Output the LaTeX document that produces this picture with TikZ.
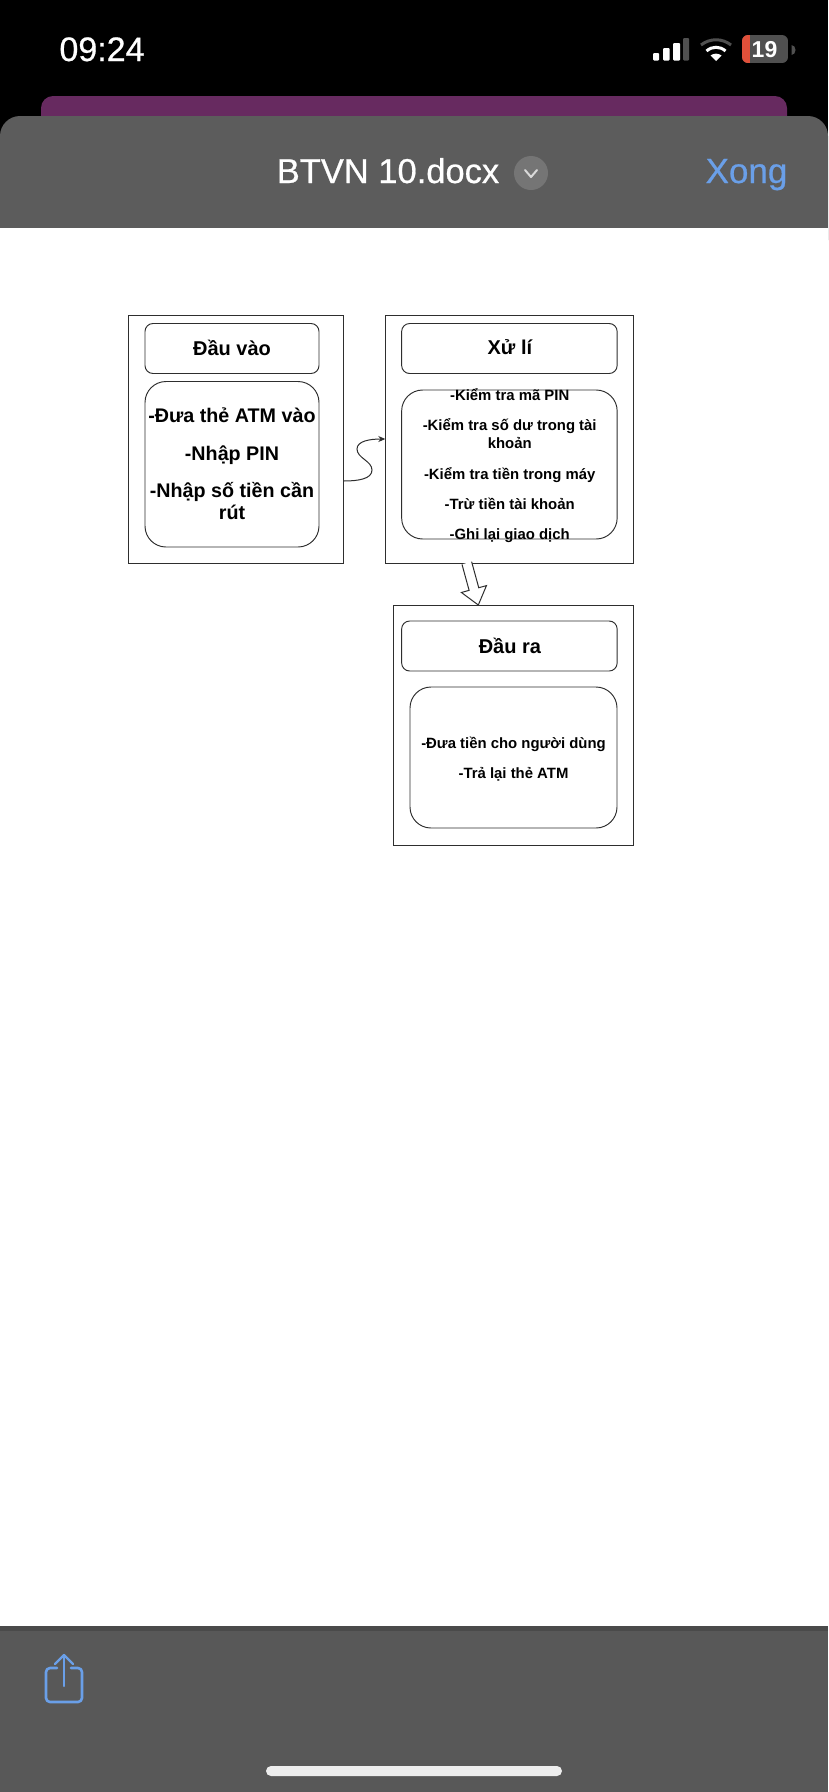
\documentclass[tikz,border=0pt]{standalone}
\usepackage{fontspec}
\setmainfont{Liberation Sans}
\newfontfamily\medfont[FakeBold=0.6]{Liberation Sans}
\usetikzlibrary{calc,arrows.meta}
\definecolor{sheet}{HTML}{5C5C5C}
\definecolor{barc}{HTML}{585858}
\definecolor{barline}{HTML}{4A4A4A}
\definecolor{plum}{HTML}{672A60}
\definecolor{iosblue}{HTML}{6A9FE8}
\definecolor{ink}{HTML}{2E2E2E}
\definecolor{dimgray}{HTML}{505050}
\definecolor{redbat}{HTML}{E0503A}
\tikzset{
  frame/.style={draw=ink,line width=0.95pt,fill=white,inner sep=0pt,outer sep=0pt},
  headbox/.style={frame,rounded corners=8pt},
  bodybox/.style={frame,rounded corners=21pt},
  headtext/.style={font=\fontsize{20}{22}\selectfont\bfseries,text=black,inner sep=0pt},
  bigtext/.style={font=\fontsize{19.7}{22}\selectfont\bfseries,text=black,align=center,inner sep=0pt},
  smalltext/.style={font=\fontsize{14.9}{18}\selectfont\bfseries,text=black,align=center,inner sep=0pt},
  flow/.style={draw=ink,line width=1pt},
}
\begin{document}
\begin{tikzpicture}[x=1pt,y=-1pt]
\useasboundingbox (0,0) rectangle (828,1792);
\fill[black] (0,0) rectangle (828,1792);
% screen chrome
\fill[plum] (41,140) -- (41,108) arc[start angle=180,end angle=90,x radius=12,y radius=-12] -- (775,96) arc[start angle=90,end angle=0,x radius=12,y radius=-12] -- (787,140) -- cycle;
\fill[sheet] (0,240) -- (0,136) arc[start angle=180,end angle=90,x radius=20,y radius=-20] -- (808,116) arc[start angle=90,end angle=0,x radius=20,y radius=-20] -- (828,240) -- cycle;
\fill[white] (0,228) rectangle (828,1626);
\fill[barc] (0,1626) rectangle (828,1792);
\fill[barline] (0,1626) rectangle (828,1631);
\node[font=\fontsize{34}{34}\medfont,text=white,inner sep=0pt,anchor=base] (clock) at (102,61) {09:24};
% signal
\fill[white,rounded corners=1pt] (653,53) rectangle (659,60.5);
\fill[white,rounded corners=1pt] (663,48) rectangle (669.5,60.5);
\fill[white,rounded corners=1pt] (673,43) rectangle (680,60.5);
\fill[dimgray,rounded corners=1pt] (683,38) rectangle (689,60.5);
% wifi
\fill[white] (716,61) -- (710.5,55.5) .. controls (714,53) and (718,53) .. (721.5,55.5) -- cycle;
\draw[white,line width=3pt] (706.5,51) .. controls (712,46) and (720,46) .. (725.5,51);
\draw[dimgray,line width=3pt] (701,45) .. controls (710,38) and (722,38) .. (731,45);
% battery
\begin{scope}
\clip[rounded corners=6pt] (742,35) rectangle (788,63);
\fill[dimgray] (742,35) rectangle (788,63);
\fill[redbat] (742,35) rectangle (750,63);
\end{scope}
\fill[dimgray] (791.5,45) -- (791.5,55) arc[start angle=-90,end angle=90,x radius=4,y radius=-5] -- cycle;
\node[font=\fontsize{23}{23}\selectfont\bfseries,text=white,inner sep=0pt] (battery) at (764.5,49.5) {19};
% title bar
\node[font=\fontsize{34.5}{34.5}\medfont,text=white,inner sep=0pt,anchor=base] (doctitle) at (388,183) {BTVN 10.docx};
\fill[black!0!sheet!85!white] (531,173) circle (17);
\draw[white!70!gray,line width=2pt,line cap=round,line join=round] (525,170) -- (531,177) -- (537,170);
\node[font=\fontsize{35}{35}\medfont,text=iosblue,inner sep=0pt,anchor=base] (done) at (746.5,183) {Xong};
% share icon
\draw[iosblue,line width=2.6pt,line cap=round,line join=round,rounded corners=4pt] (57,1668) -- (46,1668) -- (46,1702) -- (82,1702) -- (82,1668) -- (71,1668);
\draw[iosblue,line width=2.4pt,line cap=round,line join=round] (64,1686) -- (64,1655);
\draw[iosblue,line width=2.4pt,line cap=round,line join=round] (55,1664) -- (64,1655) -- (73,1664);
\fill[white!93!black,rounded corners=5pt] (266,1766) rectangle (562,1776);
% diagram
\node[frame,minimum width=215pt,minimum height=248pt] (dauvao) at (236.2,439) {};
\node[frame,minimum width=248pt,minimum height=248pt] (xuli) at (509.3,439) {};
\node[frame,minimum width=240pt,minimum height=240pt] (daura) at (513.3,725) {};
\node[headbox,minimum width=174pt,minimum height=50pt] (dvhead) at (232,348.5) {};
\node[headtext] (dvheadtext) at ($(dvhead.center)+(0,-1)$) {Đầu vào};
\node[headbox,minimum width=215.5pt,minimum height=50pt] (xlhead) at (509.4,348.5) {};
\node[headtext] (xlheadtext) at ($(xlhead.center)+(0.5,-1)$) {Xử lí};
\node[headbox,minimum width=215.5pt,minimum height=50pt] (drhead) at (509.4,646) {};
\node[headtext] (drheadtext) at ($(drhead.center)+(0.5,0)$) {Đầu ra};
\node[bodybox,minimum width=174pt,minimum height=165.5pt] (dvbody) at (232,464.25) {};
\node[bigtext] (dvbodytext) at ($(dvbody.center)+(0,-0.5)$) {-Đưa thẻ ATM vào\\[15.5pt]-Nhập PIN\\[15.5pt]-Nhập số tiền cần\\rút};
\node[bodybox,minimum width=215.5pt,minimum height=149pt] (xlbody) at (509.4,464.5) {};
\node[smalltext] (xlbodytext) at ($(xlbody.center)+(0.3,1.2)$) {-Kiểm tra mã PIN\\[12.2pt]-Kiểm tra số dư trong tài\\khoản\\[12.2pt]-Kiểm tra tiền trong máy\\[12.2pt]-Trừ tiền tài khoản\\[12.2pt]-Ghi lại giao dịch};
\node[bodybox,minimum width=207pt,minimum height=141pt] (drbody) at (513.5,757.5) {};
\node[smalltext] (drbodytext) at ($(drbody.center)+(0,1.5)$) {-Đưa tiền cho người dùng\\[12pt]-Trả lại thẻ ATM};
% curvy connector
\coordinate (wavestart) at (dauvao.east |- 0,481);
\draw[flow,-{Stealth[length=7pt,width=6pt]}] (wavestart) .. controls (358,481) and (372,479) .. (372,470) .. controls (372,461) and (357,458) .. (357,449) .. controls (357,441) and (370,439) .. (xuli.west);
% hollow block arrow
\coordinate (blockstart) at ($(xuli.south)+(-42.5,0)$);
\coordinate (blocktip) at ($(daura.north)+(-35,0)$);
\coordinate (blockneck) at ($(blockstart)!0.62!(blocktip)$);
\draw[flow,fill=white,line join=miter] ($(blockstart)!5pt!90:(blocktip)$) -- ($(blockneck)!5pt!-90:(blockstart)$) -- ($(blockneck)!13pt!-90:(blockstart)$) -- (blocktip) -- ($(blockneck)!13pt!90:(blockstart)$) -- ($(blockneck)!5pt!90:(blockstart)$) -- ($(blockstart)!5pt!-90:(blocktip)$);
\end{tikzpicture}
\end{document}
